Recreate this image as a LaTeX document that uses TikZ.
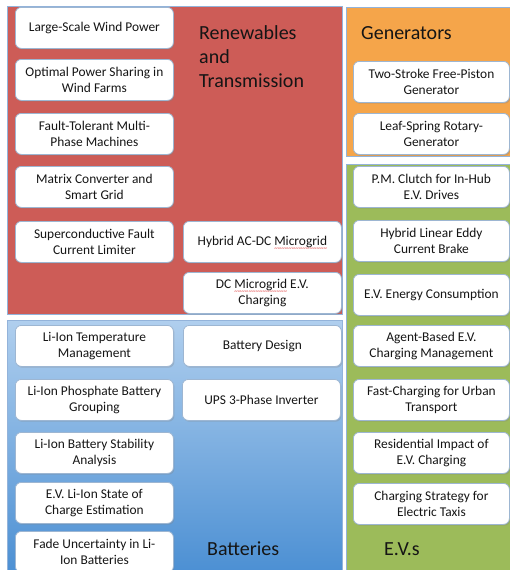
\documentclass[tikz,border=0pt]{standalone}
\usepackage{fontspec}
\setmainfont{Carlito}
\usetikzlibrary{shadows}

\definecolor{renred}{HTML}{CD5C57}
\definecolor{genorange}{HTML}{F5A54A}
\definecolor{evgreen}{HTML}{9CBB5A}
\definecolor{batlight}{HTML}{B0CFEE}
\definecolor{batdark}{HTML}{4B8FD3}
\definecolor{panelrule}{HTML}{93B3DA}
\definecolor{boxrule}{HTML}{9DB6D2}
\definecolor{inktext}{HTML}{151515}
\definecolor{spellred}{HTML}{E03030}

% red wavy spell-check underline under a word, built from small tildes
\newlength\spellwd
\newcommand\spellmark[1]{\settowidth\spellwd{#1}%
  \rlap{\raisebox{-4.6pt}[0pt][0pt]{\color{spellred}\fontsize{7}{7}\selectfont
    \hbox to \spellwd{\xleaders\hbox{\char"7E}\hfill}}}#1}

\begin{document}
\begin{tikzpicture}[x=1pt,y=-1pt,
  panel/.style={draw=panelrule, line width=0.8pt},
  topic/.style={draw=boxrule, line width=0.8pt, fill=white,
    rounded corners=6pt, minimum width=158pt, minimum height=41pt,
    align=center, inner sep=2pt, anchor=north west, text=inktext,
    font=\fontsize{13.4}{15.5}\selectfont,
    drop shadow={opacity=0.3, shadow xshift=1pt, shadow yshift=-1.3pt}},
  heading/.style={font=\fontsize{20}{24}\selectfont, anchor=base west,
    align=left, inner sep=0pt, text=inktext}]

\useasboundingbox (0,0) rectangle (510,570);

% coloured panels
\path[panel, fill=renred] (7,6) rectangle (342,314);
\path[panel, fill=genorange] (346,7) rectangle (513,156);
\path[panel, fill=evgreen] (346,164) rectangle (513,574);
\path[panel, top color=batlight, bottom color=batdark] (7,320) rectangle (342,574);

% panel headings
\node[heading] (hren) at (199,39) {Renewables};
\node[heading] (hand) at (199,63) {and};
\node[heading] (htra) at (199,87) {Transmission};
\node[heading] (hgen) at (361,39) {Generators};
\node[heading] (hbat) at (207,555) {Batteries};
\node[heading] (hev) at (384,555) {E.V.s};

% renewables and transmission
\node[topic] (r1) at (15,7) {Large-Scale Wind Power};
\node[topic] (r2) at (15,59) {Optimal Power Sharing in\\Wind Farms};
\node[topic] (r3) at (15,113) {Fault-Tolerant Multi-\\Phase Machines};
\node[topic] (r4) at (15,166) {Matrix Converter and\\Smart Grid};
\node[topic] (r5) at (15,221) {Superconductive Fault\\Current Limiter};
\node[topic] (r6) at (183,221) {Hybrid AC-DC \spellmark{Microgrid}};
\node[topic] (r7) at (183,272) {DC \spellmark{Microgrid} E.V.\\Charging};

% batteries
\node[topic] (b1) at (15,325) {Li-Ion Temperature\\Management};
\node[topic] (b2) at (15,379) {Li-Ion Phosphate Battery\\Grouping};
\node[topic] (b3) at (15,432) {Li-Ion Battery Stability\\Analysis};
\node[topic] (b4) at (15,482) {E.V. Li-Ion State of\\Charge Estimation};
\node[topic] (b5) at (15,531) {Fade Uncertainty in Li-\\Ion Batteries};
\node[topic] (b6) at (183,325) {Battery Design};
\node[topic] (b7) at (182,379) {UPS 3-Phase Inverter};

% generators
\node[topic, minimum width=156pt] (g1) at (353,61) {Two-Stroke Free-Piston\\Generator};
\node[topic, minimum width=156pt] (g2) at (353,113) {Leaf-Spring Rotary-\\Generator};

% electric vehicles
\node[topic, minimum width=156pt] (e1) at (353,166) {P.M. Clutch for In-Hub\\E.V. Drives};
\node[topic, minimum width=156pt] (e2) at (353,220) {Hybrid Linear Eddy\\Current Brake};
\node[topic, minimum width=156pt] (e3) at (353,274) {E.V. Energy Consumption};
\node[topic, minimum width=156pt] (e4) at (353,325) {Agent-Based E.V.\\Charging Management};
\node[topic, minimum width=156pt] (e5) at (353,379) {Fast-Charging for Urban\\Transport};
\node[topic, minimum width=156pt] (e6) at (353,432) {Residential Impact of\\E.V. Charging};
\node[topic, minimum width=156pt] (e7) at (353,483) {Charging Strategy for\\Electric Taxis};

\end{tikzpicture}
\end{document}
